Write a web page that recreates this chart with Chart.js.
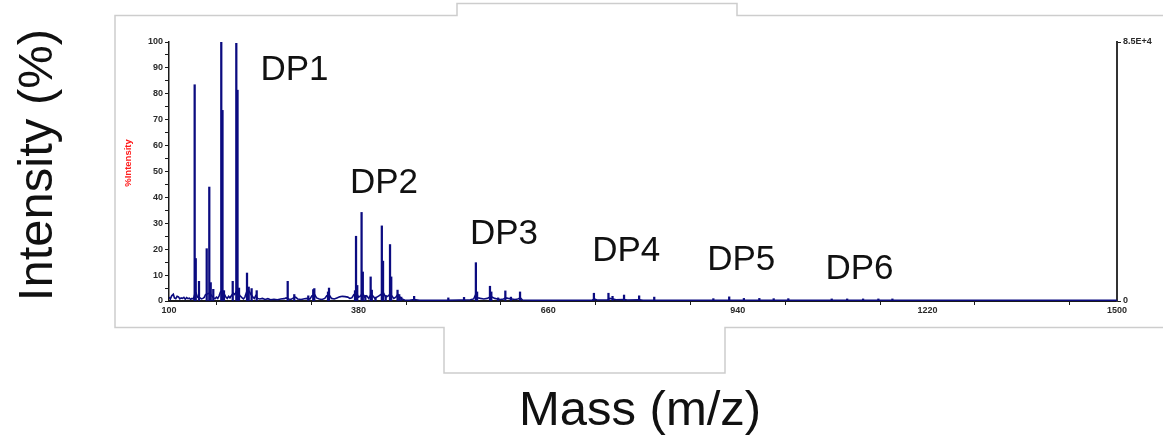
<!DOCTYPE html>
<html>
<head>
<meta charset="utf-8">
<title>MALDI spectrum – DP1 to DP6</title>
<script src="https://cdn.jsdelivr.net/npm/chart.js@4.4.1/dist/chart.umd.min.js"></script>
<style>
  html, body { margin: 0; padding: 0; background: #ffffff; }
  #wrap { width: 1163px; height: 441px; position: relative; }
  canvas { display: block; }
</style>
</head>
<body>
<div id="wrap"><canvas id="spectrum" width="1163" height="441"></canvas></div>
<script>
// Centroid peaks (m/z, relative intensity in %)
const peakMz = [
  137.9, 139.5, 144.3, 155.7, 159.5, 161.6, 165.4, 177.2, 179.0, 181.2,
  194.1, 199.4, 201.2, 203.4, 215.2, 217.7, 222.0, 229.5, 275.3, 285.0,
  305.7, 313.0, 314.6, 334.8, 336.3, 374.7, 376.2, 378.0, 384.4, 386.2,
  390.0, 397.8, 399.5, 405.0, 414.3, 416.1, 420.0, 426.4, 428.2, 437.5,
  440.0, 443.0, 462.0, 512.5, 535.7, 553.2, 555.0, 574.0, 576.0, 586.0,
  596.7, 605.0, 618.4, 727.5, 749.0, 755.0, 772.0, 794.3, 816.6, 903.9,
  927.3, 949.0, 971.8, 993.0, 1014.6, 1078.7, 1101.5, 1125.0, 1147.6, 1168.3
];
const peakIntensity = [
  83.5, 16.4, 7.6, 20.2, 44.0, 7.1, 4.5, 100.0, 73.6, 4.0,
  7.6, 99.5, 81.4, 5.0, 10.8, 5.4, 4.8, 4.0, 7.6, 2.5,
  2.0, 4.4, 4.8, 3.5, 5.0, 4.0, 25.0, 6.0, 34.2, 11.2,
  2.2, 9.3, 4.2, 1.5, 29.0, 15.4, 2.2, 21.8, 9.3, 4.2,
  2.5, 1.5, 1.8, 1.2, 1.4, 14.8, 3.5, 5.7, 3.5, 1.2,
  3.9, 1.5, 3.5, 3.0, 3.0, 1.8, 2.3, 2.0, 1.5, 0.9,
  1.6, 1.0, 1.0, 0.9, 0.9, 0.8, 0.8, 0.8, 0.8, 0.8
];

// Profile baseline trace (m/z, relative intensity in %)
const baseMz = [
  100, 102, 104, 106.4, 108, 110, 112, 114, 116, 118, 120, 122, 124, 126, 128, 130,
  132, 134, 136, 138, 140, 142, 146, 148, 150, 152, 154, 157, 160, 163, 166, 168,
  170, 172, 174, 176, 179, 182, 184, 186, 188, 190, 192, 195, 197, 200, 202, 205,
  208, 210, 212, 214, 216, 219, 221, 224, 226, 228, 231, 234, 238, 242, 246, 250,
  255, 260, 265, 270, 273, 277, 280, 284, 287, 290, 295, 300, 304, 308, 311, 315,
  318, 322, 326, 330, 333, 337, 340, 344, 348, 352, 356, 360, 364, 367, 370, 373,
  377, 380, 383, 386, 389, 392, 395, 398, 401, 404, 407, 410, 413, 417, 420, 423,
  426, 429, 432, 435, 438, 441, 444, 448, 455, 462, 470, 490, 510, 530, 545, 550,
  553, 556, 560, 565, 570, 574, 577, 581, 585, 590, 594, 597, 601, 606, 611, 615,
  619, 622, 640, 700, 725, 728, 732, 748, 751, 756, 760, 772, 777, 795, 800, 900,
  1500
];
const baseIntensity = [
  1.5, 0.8, 2.0, 2.6, 1.2, 0.9, 1.8, 1.6, 0.8, 1.2, 1.0, 1.4, 0.7, 1.3, 0.9, 1.1,
  0.6, 1.0, 0.8, 2.5, 3.0, 1.5, 1.2, 0.8, 1.0, 1.4, 2.5, 2.8, 3.0, 2.0, 1.2, 0.9,
  1.5, 1.0, 2.0, 3.5, 4.0, 2.5, 1.5, 1.0, 1.8, 1.2, 2.0, 3.0, 2.5, 4.0, 3.0, 2.0,
  1.2, 0.8, 1.5, 3.0, 4.5, 3.5, 2.5, 1.5, 1.0, 2.0, 1.0, 0.8, 1.0, 0.6, 0.9, 0.5,
  0.7, 0.5, 0.8, 0.9, 1.2, 0.8, 0.6, 1.2, 1.5, 0.8, 0.6, 0.9, 1.0, 0.7, 2.0, 2.5,
  1.2, 0.8, 0.6, 1.0, 2.0, 2.2, 1.0, 0.8, 1.2, 1.6, 1.8, 1.7, 1.5, 1.0, 1.2, 2.5,
  3.0, 1.5, 2.0, 3.0, 1.5, 2.0, 1.0, 2.5, 2.0, 1.0, 1.5, 2.0, 2.5, 3.0, 1.5, 1.8,
  2.5, 2.0, 1.0, 1.5, 2.5, 1.5, 0.8, 0.4, 0.3, 0.6, 0.3, 0.3, 0.3, 0.4, 0.5, 0.8,
  2.5, 1.2, 1.0, 0.8, 1.0, 1.5, 1.5, 1.0, 0.8, 0.6, 0.8, 1.2, 1.0, 0.8, 0.6, 0.8,
  1.2, 0.4, 0.3, 0.3, 0.3, 0.8, 0.4, 0.4, 1.0, 0.8, 0.5, 0.6, 0.4, 0.5, 0.3, 0.3,
  0.3
];

// Axis ticks
const xTicks = [100, 240, 380, 520, 660, 800, 940, 1080, 1220, 1360, 1500];
const xTickLabels = ['100', '', '380', '', '660', '', '940', '', '1220', '', '1500'];
const yTicks = [0, 5, 10, 15, 20, 25, 30, 35, 40, 45, 50, 55, 60, 65, 70, 75, 80, 85, 90, 95, 100];
const yTickLabels = ['0', '', '10', '', '20', '', '30', '', '40', '', '50', '', '60', '', '70', '', '80', '', '90', '', '100'];
const countTicks = [0, 85000];
const countTickLabels = ['0', '8.5E+4'];

// Oligomer annotations, anchored in data coordinates (m/z, % intensity)
const dpLabels = ['DP1', 'DP2', 'DP3', 'DP4', 'DP5', 'DP6'];
const dpMz = [235.1, 367.2, 544.4, 725.0, 894.8, 1069.5];
const dpLevel = [85.3, 41.8, 22.1, 15.4, 12.1, 8.5];

const NAVY = '#0b0b80';
const AXIS = '#1a1a1a';
const TICK_FONT = { family: 'Liberation Sans, Arial, sans-serif', size: 9, weight: 'bold' };

const peakPoints = peakMz.map((m, i) => ({ x: m, y: peakIntensity[i] }));
const basePoints = baseMz.map((m, i) => ({ x: m, y: baseIntensity[i] }));

const decorations = {
  id: 'decorations',
  beforeDraw(chart) {
    const ctx = chart.ctx;
    ctx.save();
    ctx.fillStyle = '#ffffff';
    ctx.fillRect(0, 0, chart.width, chart.height);
    // panel outline with the notched top and bottom edges
    ctx.strokeStyle = '#cdcdcd';
    ctx.lineWidth = 1.5;
    ctx.beginPath();
    ctx.moveTo(1164, 15.5);
    ctx.lineTo(737, 15.5);
    ctx.lineTo(737, 3.5);
    ctx.lineTo(457, 3.5);
    ctx.lineTo(457, 15.5);
    ctx.lineTo(115, 15.5);
    ctx.lineTo(115, 327.5);
    ctx.lineTo(444, 327.5);
    ctx.lineTo(444, 373);
    ctx.lineTo(725, 373);
    ctx.lineTo(725, 327.5);
    ctx.lineTo(1164, 327.5);
    ctx.stroke();
    ctx.restore();
  },
  afterDraw(chart) {
    const ctx = chart.ctx;
    const xs = chart.scales.x, ys = chart.scales.y;
    ctx.save();
    ctx.fillStyle = '#111111';
    ctx.textBaseline = 'alphabetic';

    // oligomer labels
    ctx.font = '35px "Liberation Sans", Arial, sans-serif';
    ctx.textAlign = 'left';
    dpLabels.forEach((t, i) => {
      ctx.fillText(t, xs.getPixelForValue(dpMz[i]), ys.getPixelForValue(dpLevel[i]));
    });

    // axis titles
    ctx.font = '49px "Liberation Sans", Arial, sans-serif';
    ctx.textAlign = 'center';
    ctx.fillText('Mass (m/z)', 640, 425);
    ctx.save();
    ctx.translate(52, 165);
    ctx.rotate(-Math.PI / 2);
    ctx.fillText('Intensity (%)', 0, 0);
    ctx.restore();

    // instrument axis caption
    ctx.save();
    ctx.fillStyle = '#ff1a1a';
    ctx.font = 'bold 9.5px "Liberation Sans", Arial, sans-serif';
    ctx.translate(131, 163);
    ctx.rotate(-Math.PI / 2);
    ctx.fillText('%Intensity', 0, 0);
    ctx.restore();

    ctx.restore();
  }
};

new Chart(document.getElementById('spectrum'), {
  type: 'bar',
  data: {
    datasets: [
      {
        type: 'bar',
        data: peakPoints,
        backgroundColor: NAVY,
        borderWidth: 0,
        barThickness: 1.6,
        grouped: false,
        order: 1
      },
      {
        type: 'line',
        data: basePoints,
        borderColor: NAVY,
        borderWidth: 1.6,
        pointRadius: 0,
        tension: 0,
        fill: false,
        order: 2
      }
    ]
  },
  options: {
    responsive: false,
    animation: false,
    devicePixelRatio: 1,
    layout: { padding: { top: 42, left: 0, right: 0, bottom: 0 } },
    plugins: { legend: { display: false }, tooltip: { enabled: false }, title: { display: false } },
    scales: {
      x: {
        type: 'linear',
        position: 'bottom',
        min: 100,
        max: 1500,
        offset: false,
        afterBuildTicks(scale) { scale.ticks = xTicks.map(v => ({ value: v })); },
        afterFit(scale) { scale.height = 140; },
        ticks: {
          autoSkip: false,
          maxRotation: 0,
          padding: 0,
          color: '#2a2a2a',
          font: TICK_FONT,
          callback: (v, i) => xTickLabels[i]
        },
        grid: { drawOnChartArea: false, drawTicks: true, tickLength: 4, tickColor: AXIS, tickWidth: 1 },
        border: { display: true, color: AXIS, width: 2 }
      },
      y: {
        type: 'linear',
        position: 'left',
        min: 0,
        max: 100,
        afterBuildTicks(scale) { scale.ticks = yTicks.map(v => ({ value: v })); },
        afterFit(scale) { scale.width = 169; },
        ticks: {
          autoSkip: false,
          padding: 2,
          color: '#2a2a2a',
          font: TICK_FONT,
          callback: (v, i) => yTickLabels[i]
        },
        grid: { drawOnChartArea: false, drawTicks: true, tickLength: 4, tickColor: AXIS, tickWidth: 1 },
        border: { display: true, color: AXIS, width: 1.5 }
      },
      counts: {
        type: 'linear',
        position: 'right',
        min: 0,
        max: 85000,
        afterBuildTicks(scale) { scale.ticks = countTicks.map(v => ({ value: v })); },
        afterFit(scale) { scale.width = 46; },
        ticks: {
          autoSkip: false,
          padding: 2,
          color: '#2a2a2a',
          font: TICK_FONT,
          callback: (v, i) => countTickLabels[i]
        },
        grid: { drawOnChartArea: false, drawTicks: true, tickLength: 4, tickColor: AXIS, tickWidth: 1 },
        border: { display: true, color: '#333333', width: 2 }
      }
    }
  },
  plugins: [decorations]
});
</script>
</body>
</html>
